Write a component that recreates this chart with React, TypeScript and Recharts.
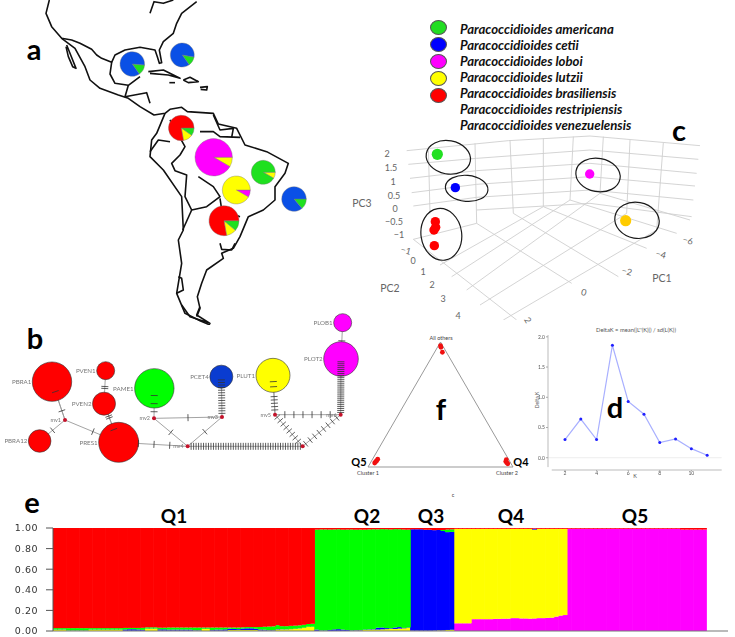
import React from 'react';
import {
  Bar, BarChart, Cell, LineChart, Line, Pie, PieChart, ReferenceLine,
  Scatter, ScatterChart, XAxis, YAxis,
} from 'recharts';

const RED = '#ff0000';
const GREEN = '#00ff00';
const BLUE = '#0000ff';
const YELLOW = '#ffff00';
const MAGENTA = '#ff00ff';
const MAP_BLUE = '#0a50e6';
const MAP_GREEN = '#1fe01f';

type Pt = { x: number; y: number };
const pts = (flat: number[]): Pt[] => {
  const out: Pt[] = [];
  for (let i = 0; i < flat.length; i += 2) out.push({ x: flat[i], y: flat[i + 1] });
  return out;
};

// panel a: outlines in map units
const coastAndBorders = [
  [148, 0, 138, 40, 155, 80, 185, 115, 215, 120, 240, 130, 275, 148, 290, 165, 305, 175, 335, 187, 345, 165, 375, 150, 420, 142, 465, 150, 472, 170, 478, 190, 485, 188, 478, 150, 490, 125, 520, 100, 530, 70, 545, 40, 590, 5],
  [200, 135, 212, 165, 228, 205, 218, 200, 205, 170, 198, 140],
  [185, 115, 225, 145, 255, 200, 270, 240, 300, 265, 355, 285, 385, 295, 420, 320, 462, 345, 495, 340, 510, 328, 545, 322, 562, 335, 640, 340, 655, 372, 710, 385, 735, 435, 800, 455, 865, 490, 855, 520, 825, 560, 825, 600, 790, 630, 745, 650, 720, 710, 700, 745, 665, 760, 670, 775, 620, 810, 605, 850, 592, 890, 600, 925, 590, 950],
  [335, 187, 330, 222, 345, 250, 385, 256, 420, 230],
  [385, 256, 375, 290, 440, 278, 450, 310],
  [495, 340, 470, 400, 455, 420, 450, 470, 490, 510, 545, 590, 550, 690, 535, 720, 545, 790, 530, 880, 555, 940, 600, 962, 630, 975],
  [510, 360, 555, 440, 540, 465, 515, 490, 525, 512, 560, 525, 555, 590, 575, 630, 620, 620, 660, 590, 640, 560, 595, 530],
  [450, 455, 475, 420, 510, 425],
  [575, 630, 548, 690],
  [660, 595, 665, 628, 720, 650],
  [660, 730, 665, 748, 695, 750, 705, 730],
  [600, 395, 640, 395, 660, 410, 720, 412],
  [640, 345, 660, 390, 700, 385, 695, 412],
  [445, 215, 490, 210, 540, 235, 505, 225, 450, 220],
  [550, 240, 570, 232, 595, 245, 565, 248, 550, 240],
  [600, 262, 622, 260, 620, 270, 602, 268],
  [508, 248, 525, 248],
  [450, 40, 462, 5, 490, 10, 520, 0],
  [530, 880, 550, 870, 545, 835, 535, 830],
  [545, 915, 570, 950, 630, 970, 590, 945, 600, 920],
];

const pieNames = ['Gulf', 'Caribbean', 'Venezuela', 'Amazon', 'Northeast', 'Central', 'Atlantic', 'South'];
const pieValues = [[50, 310], [45, 315], [45, 35, 280], [30, 330], [30, 330], [30, 330], [50, 310], [40, 40, 280]];
const pieColors = [
  [MAP_GREEN, MAP_BLUE], [MAP_GREEN, MAP_BLUE], [YELLOW, MAP_GREEN, RED], [YELLOW, MAGENTA], [YELLOW, MAP_GREEN],
  [MAGENTA, YELLOW], [MAP_GREEN, MAP_BLUE], [YELLOW, MAP_GREEN, RED],
];
const pieStart = [-55, -55, -80, -30, -30, -30, -50, -80];
const pieCx = [132.3, 182.3, 181.3, 213.7, 263.3, 236.3, 294, 224];
const pieCy = [64, 55, 128, 157.3, 172.3, 190, 199, 220.7];
const pieRadius = [12.3, 12, 12.8, 18.7, 12, 14, 12.3, 15];

// panel c: perspective grid, in plot units
const pcaGrid = [
  [110, 452, 415, 422, 660, 408, 990, 437],
  [115, 493, 320, 475, 660, 450, 985, 478],
  [120, 535, 320, 512, 660, 490, 980, 520],
  [125, 578, 320, 553, 660, 530, 975, 558],
  [130, 618, 320, 592, 660, 570, 970, 600],
  [320, 630, 660, 610, 965, 650],
  [175, 440, 180, 640], [315, 430, 320, 670], [420, 420, 430, 640], [520, 415, 520, 620],
  [610, 410, 600, 600], [700, 410, 690, 580], [780, 420, 770, 640], [880, 428, 860, 690],
  [320, 670, 605, 850], [430, 640, 745, 830], [520, 620, 830, 745], [600, 600, 920, 700], [690, 580, 960, 660],
  [130, 718, 320, 670], [210, 795, 520, 620], [245, 830, 600, 600], [290, 870, 690, 580], [330, 915, 770, 640], [400, 960, 860, 690],
  [130, 718, 440, 960],
];
const pcaGreen = pts([202, 463]);
const pcaBlue = pts([256, 563]);
const pcaMagenta = pts([659, 522]);
const pcaOrange = pts([767, 662]);
const pcaRed = pts([196, 665, 197, 682, 192, 690, 193, 737]);
const pcaRings = [
  { x: 235, y: 472, rx: 67, ry: 50, tilt: 10 },
  { x: 290, y: 565, rx: 64, ry: 39, tilt: 5 },
  { x: 214, y: 703, rx: 61, ry: 78, tilt: -8 },
  { x: 684, y: 525, rx: 67, ry: 50, tilt: 10 },
  { x: 801, y: 661, rx: 67, ry: 54, tilt: 10 },
];

// panel b: haplotype network
const hapNames = ['PBRA1', 'PVEN1', 'PVEN2', 'PBRA12', 'PRES1', 'PAME1', 'PCET4', 'PLUT1', 'PLOB1', 'PLOT2'];
const hapX = [156, 317, 312, 119, 356, 463, 664, 819, 1028, 1023];
const hapY = [230, 197, 296, 408, 412, 250, 215, 211, 53, 162];
const hapRadius = [19.7, 9, 11.5, 11.3, 20, 19.7, 11.5, 17, 9, 17.3];
const hapColors = [RED, RED, RED, RED, RED, GREEN, '#0a3cd0', YELLOW, MAGENTA, MAGENTA];
const mvNames = ['mv1', 'mv2', 'mv3', 'mv4', 'mv5', 'mv6', 'mv7'];
const mvX = [195, 462, 666, 563, 825, 1022, 908];
const mvY = [345, 340, 336, 424, 329, 329, 424];
// from, to, mutation ticks, first and last position of the ticks on the edge
const hapEdges: [string, string, number, number, number][] = [
  ['PBRA1', 'mv1', 1, 0.76, 0.76],
  ['PBRA1', 'mv1', 1, 0.26, 0.26],
  ['PBRA12', 'mv1', 1, 0.51, 0.51],
  ['mv1', 'PRES1', 1, 0.52, 0.52],
  ['PVEN1', 'PVEN2', 2, 0.48, 0.54],
  ['PVEN2', 'PRES1', 2, 0.32, 0.37],
  ['PVEN2', 'PRES1', 1, 0.67, 0.67],
  ['PRES1', 'mv4', 3, 0.285, 0.74],
  ['mv2', 'mv3', 1, 0.5, 0.5],
  ['mv2', 'mv4', 1, 0.5, 0.5],
  ['mv3', 'mv4', 1, 0.5, 0.5],
  ['mv4', 'mv7', 45, 0.03, 0.98],
  ['mv5', 'mv6', 6, 0.15, 0.84],
  ['mv5', 'mv7', 8, 0.08, 0.84],
  ['mv6', 'mv7', 8, 0.1, 0.92],
  ['PAME1', 'mv2', 3, 0.24, 0.78],
  ['PCET4', 'mv3', 14, 0.08, 0.91],
  ['PLUT1', 'mv5', 2, 0.16, 0.29],
  ['PLUT1', 'mv5', 5, 0.54, 0.88],
  ['PLOT2', 'mv6', 27, 0.05, 0.96],
  ['PLOB1', 'PLOT2', 1, 0.5, 0.5],
];

const where = (name: string): Pt => {
  const h = hapNames.indexOf(name);
  if (h >= 0) return { x: hapX[h], y: hapY[h] };
  const m = mvNames.indexOf(name);
  return { x: mvX[m], y: mvY[m] };
};
const hapNodes = hapNames.map((name, i) => ({ name, x: hapX[i], y: hapY[i], r: hapRadius[i], fill: hapColors[i] }));
const mvNodes = mvNames.map((name, i) => ({ name, x: mvX[i], y: mvY[i] }));
const mutationTicks = hapEdges.flatMap(([a, b, n, t0, t1]) => {
  const p = where(a);
  const q = where(b);
  const angle = Math.atan2(q.y - p.y, q.x - p.x);
  return Array.from({ length: n }, (_, i) => {
    const t = n === 1 ? t0 : t0 + ((t1 - t0) * i) / (n - 1);
    return { x: p.x + (q.x - p.x) * t, y: p.y + (q.y - p.y) * t, angle };
  });
});

// panel f: triangle plot
const triangleFrame = pts([0.5, 1, 0, 0, 1, 0, 0.5, 1]);
const trianglePoints = pts([
  0.5, 0.97, 0.503, 0.958, 0.513, 0.918,
  0.046, 0.032, 0.053, 0.042, 0.06, 0.05, 0.067, 0.062,
  0.95, 0.045, 0.957, 0.034, 0.964, 0.026, 0.954, 0.058,
]);

// panel d: Evanno deltaK
const deltaKs = [2, 3, 4, 5, 6, 7, 8, 9, 10, 11];
const deltaValues = [0.3, 0.64, 0.3, 1.86, 0.93, 0.72, 0.25, 0.31, 0.15, 0.04];

// panel e: ancestry per sample, lines are Q1 (60), Q2 (22), Q3 (10), Q4 (26), Q5 (32), then 5 empty slots
const magentaShare = [
  0, 0, 0, 0, 0, 0, 0, 0, 0, 0, 0, 0, 0, 0, 0, 0, 0, 0, 0, 0, 0, 0, 0, 0, 0, 0, 0, 0, 0, 0,
  0, 0, 0, 0, 0, 0, 0, 0, 0, 0, 0, 0, 0, 0, 0, 0, 0, 0, 0, 0, 0, 0, 0, 0, 0, 0, 0, 0, 0, 0,
  0, 0, 0, 0, 0, 0, 0, 0, 0, 0, 0, 0, 0, 0, 0, 0, 0, 0, 0, 0, 0, 0,
  0, 0, 0, 0, 0, 0, 0, 0, 0, 0,
  0.075, 0.075, 0.075, 0.075, 0.115, 0.115, 0.115, 0.115, 0.115, 0.118, 0.118, 0.12, 0.12, 0.125, 0.125, 0.122, 0.122, 0.12, 0.122, 0.125, 0.125, 0.128, 0.13, 0.14, 0.15, 0.155,
  0.993, 0.993, 0.993, 0.993, 0.993, 0.993, 0.993, 0.993, 0.993, 0.993, 0.993, 0.993, 0.993, 0.993, 0.993, 0.993, 0.993, 0.993, 0.993, 0.993, 0.993, 0.993, 0.993, 0.993, 0.993, 0.993, 0.985, 0.985, 0.985, 0.985, 0.985, 0.985,
  0, 0, 0, 0, 0,
];
const yellowShare = [
  0.012, 0.012, 0.012, 0.004, 0.004, 0.004, 0.004, 0.004, 0.012, 0.012, 0.012, 0.012, 0.012, 0.012, 0.012, 0.012, 0.003, 0.003, 0.003, 0.003, 0.003, 0.022, 0.022, 0.022, 0.004, 0.004, 0.004, 0.004, 0.004, 0.004,
  0.004, 0.004, 0.004, 0.004, 0.02, 0.02, 0.004, 0.004, 0.004, 0.004, 0.01, 0.01, 0.01, 0.01, 0.01, 0.01, 0.01, 0.005, 0.005, 0.005, 0.005, 0.015, 0.015, 0.015, 0.018, 0.02, 0.025, 0.03, 0.04, 0.04,
  0.002, 0.002, 0.002, 0.002, 0.002, 0.002, 0.002, 0.002, 0.002, 0.005, 0.006, 0.01, 0.012, 0.014, 0.014, 0.016, 0.018, 0.02, 0.02, 0.024, 0.026, 0.03,
  0.003, 0.003, 0.003, 0.003, 0.003, 0.004, 0.006, 0.006, 0.01, 0.012,
  0.917, 0.917, 0.917, 0.917, 0.877, 0.877, 0.877, 0.877, 0.877, 0.874, 0.874, 0.872, 0.872, 0.867, 0.867, 0.87, 0.87, 0.872, 0.862, 0.867, 0.867, 0.864, 0.862, 0.852, 0.842, 0.837,
  0, 0, 0, 0, 0, 0, 0, 0, 0, 0, 0, 0, 0, 0, 0, 0, 0, 0, 0, 0, 0, 0, 0, 0, 0, 0, 0, 0, 0, 0, 0, 0,
  0, 0, 0, 0, 0,
];
const blueShare = [
  0.002, 0.002, 0.002, 0.002, 0.002, 0.002, 0.002, 0.002, 0.002, 0.002, 0.002, 0.002, 0.002, 0.002, 0.002, 0.002, 0.012, 0.014, 0.014, 0.012, 0.008, 0.002, 0.002, 0.002, 0.012, 0.012, 0.01, 0.01, 0.01, 0.01,
  0.01, 0.01, 0.004, 0.004, 0.002, 0.002, 0.006, 0.01, 0.01, 0.012, 0.012, 0.01, 0.008, 0.014, 0.016, 0.016, 0.012, 0.01, 0.008, 0.004, 0.004, 0.004, 0.002, 0.002, 0.002, 0.002, 0.002, 0.002, 0.002, 0.002,
  0.012, 0.004, 0.004, 0.008, 0.014, 0.016, 0.012, 0.008, 0.004, 0.004, 0.004, 0.004, 0.004, 0.004, 0.018, 0.018, 0.01, 0.006, 0.014, 0.014, 0.004, 0.004,
  0.985, 0.985, 0.985, 0.98, 0.98, 0.975, 0.975, 0.965, 0.95, 0.95,
  0, 0, 0, 0, 0, 0, 0, 0, 0, 0, 0, 0, 0, 0, 0, 0, 0, 0, 0.01, 0, 0, 0, 0, 0, 0, 0,
  0, 0, 0, 0, 0, 0, 0, 0, 0, 0, 0, 0, 0, 0, 0, 0, 0, 0, 0, 0, 0, 0, 0, 0, 0, 0, 0, 0, 0, 0, 0, 0,
  0, 0, 0, 0, 0,
];
const greenShare = [
  0.014, 0.014, 0.014, 0.022, 0.022, 0.022, 0.022, 0.022, 0.014, 0.014, 0.014, 0.014, 0.014, 0.014, 0.014, 0.014, 0.015, 0.013, 0.013, 0.015, 0.02, 0.012, 0.012, 0.012, 0.016, 0.016, 0.02, 0.02, 0.02, 0.02,
  0.02, 0.02, 0.026, 0.026, 0.012, 0.012, 0.024, 0.02, 0.02, 0.018, 0.012, 0.014, 0.016, 0.012, 0.012, 0.012, 0.016, 0.024, 0.028, 0.034, 0.036, 0.038, 0.03, 0.03, 0.03, 0.03, 0.028, 0.028, 0.026, 0.028,
  0.97, 0.98, 0.98, 0.975, 0.97, 0.97, 0.97, 0.975, 0.98, 0.975, 0.975, 0.97, 0.97, 0.97, 0.955, 0.955, 0.96, 0.96, 0.955, 0.95, 0.955, 0.95,
  0, 0, 0, 0, 0, 0, 0, 0.01, 0.025, 0.025,
  0, 0, 0, 0, 0, 0, 0, 0, 0, 0, 0, 0, 0, 0, 0, 0, 0, 0, 0, 0, 0, 0, 0, 0, 0, 0,
  0, 0, 0, 0, 0, 0, 0, 0, 0, 0, 0, 0, 0, 0, 0, 0, 0, 0, 0, 0, 0, 0, 0, 0, 0, 0, 0, 0, 0, 0, 0, 0,
  0, 0, 0, 0, 0,
];
const redShare = [
  0.98, 0.98, 0.98, 0.98, 0.98, 0.98, 0.98, 0.98, 0.98, 0.98, 0.98, 0.98, 0.98, 0.98, 0.98, 0.98, 0.98, 0.98, 0.98, 0.98, 0.98, 0.975, 0.975, 0.975, 0.975, 0.975, 0.975, 0.975, 0.975, 0.975,
  0.975, 0.975, 0.975, 0.975, 0.975, 0.975, 0.975, 0.975, 0.975, 0.975, 0.975, 0.975, 0.975, 0.975, 0.975, 0.975, 0.975, 0.97, 0.97, 0.965, 0.965, 0.95, 0.96, 0.96, 0.955, 0.955, 0.95, 0.945, 0.94, 0.935,
  0.02, 0.02, 0.02, 0.02, 0.02, 0.02, 0.02, 0.02, 0.02, 0.02, 0.02, 0.02, 0.02, 0.02, 0.02, 0.02, 0.02, 0.02, 0.02, 0.02, 0.02, 0.02,
  0.02, 0.02, 0.02, 0.02, 0.02, 0.025, 0.025, 0.025, 0.03, 0.03,
  0.01, 0.01, 0.01, 0.01, 0.01, 0.01, 0.01, 0.01, 0.01, 0.01, 0.01, 0.01, 0.01, 0.01, 0.01, 0.01, 0.01, 0.01, 0.01, 0.01, 0.01, 0.01, 0.01, 0.01, 0.01, 0.01,
  0.01, 0.01, 0.01, 0.01, 0.01, 0.01, 0.01, 0.01, 0.01, 0.01, 0.01, 0.01, 0.01, 0.01, 0.01, 0.01, 0.01, 0.01, 0.01, 0.01, 0.01, 0.01, 0.01, 0.01, 0.01, 0.01, 0.02, 0.02, 0.02, 0.02, 0.02, 0.02,
  0, 0, 0, 0, 0,
];
const ancestryRows = redShare.map((red, i) => ({
  sample: i, magenta: magentaShare[i], yellow: yellowShare[i], blue: blueShare[i], green: greenShare[i], red,
}));
const ancestryTicks = [0, 0.2, 0.4, 0.6, 0.8, 1];

const legendNames = [
  'Paracoccidioides americana', 'Paracoccidioides cetii', 'Paracoccidioides loboi', 'Paracoccidioides lutzii',
  'Paracoccidioides brasiliensis', 'Paracoccidioides restripiensis', 'Paracoccidioides venezuelensis',
];
const legendSwatches = ['#22dd22', '#0000ff', '#ff00ff', '#ffff00', '#ff0000'];

const SANS = 'Lato, "Open Sans", sans-serif';

const Caption: React.FC<{
  x: number; y: number; size: number; color?: string; bold?: boolean; rotate?: number; italic?: boolean; children: React.ReactNode;
}> = ({ x, y, size, color = '#000', bold, rotate = 0, italic, children }) => (
  <div
    style={{
      position: 'absolute', left: x, top: y, transform: `translate(-50%,-50%) rotate(${rotate}deg)`,
      fontFamily: SANS, fontSize: size, color, fontWeight: bold ? 700 : 400, fontStyle: italic ? 'italic' : 'normal',
      whiteSpace: 'nowrap', lineHeight: 1,
    }}
  >
    {children}
  </div>
);

const Layer: React.FC<{ x: number; y: number; blur?: number; children: React.ReactNode }> = ({ x, y, blur = 0, children }) => (
  <div style={{ position: 'absolute', left: x, top: y, filter: blur ? `blur(${blur}px)` : undefined }}>{children}</div>
);

const NO_MARGIN = { top: 0, right: 0, bottom: 0, left: 0 };

const dot = (r: number, fill: string) => (p: any) => <circle cx={p.cx} cy={p.cy} r={r} fill={fill} />;
const nothing = () => <g />;
// bars are a fraction of a pixel apart at this width, so each one overlaps its neighbour
const solidBar = (p: any) => (p.height > 0 ? <rect x={p.x} y={p.y} width={p.width + 1} height={p.height} fill={p.fill} /> : <g />);

function MapPanel() {
  return (
    <>
      <Layer x={0} y={0} blur={0.4}>
        <ScatterChart width={370} height={325} margin={NO_MARGIN}>
          <XAxis type="number" dataKey="x" domain={[0, 1110]} hide />
          <YAxis type="number" dataKey="y" domain={[0, 975]} reversed hide />
          {coastAndBorders.map((line, i) => (
            <Scatter key={i} data={pts(line)} line={{ stroke: '#111', strokeWidth: 1.6, strokeLinejoin: 'round' }} shape={nothing} isAnimationActive={false} />
          ))}
        </ScatterChart>
      </Layer>
      <Layer x={0} y={0}>
        <PieChart width={370} height={325} margin={NO_MARGIN}>
          {pieNames.map((name, i) => (
            <Pie
              key={name}
              data={pieValues[i].map((value) => ({ value }))}
              dataKey="value"
              cx={pieCx[i]}
              cy={pieCy[i]}
              innerRadius={0}
              outerRadius={pieRadius[i]}
              startAngle={pieStart[i]}
              endAngle={pieStart[i] + 360}
              stroke="#777"
              strokeWidth={0.4}
              isAnimationActive={false}
            >
              {pieValues[i].map((_, j) => (
                <Cell key={j} fill={pieColors[i][j]} />
              ))}
            </Pie>
          ))}
        </PieChart>
      </Layer>
    </>
  );
}

function PcaPanel() {
  return (
    <Layer x={370} y={0} blur={0.3}>
      <ScatterChart width={365} height={320} margin={NO_MARGIN}>
        <XAxis type="number" dataKey="x" domain={[0, 1095]} hide />
        <YAxis type="number" dataKey="y" domain={[0, 960]} reversed hide />
        {pcaGrid.map((line, i) => (
          <Scatter key={i} data={pts(line)} line={{ stroke: '#cfcfcf', strokeWidth: 0.9 }} shape={nothing} isAnimationActive={false} />
        ))}
        <Scatter data={pcaGreen} shape={dot(5.6, '#22e022')} isAnimationActive={false} />
        <Scatter data={pcaBlue} shape={dot(4.7, '#0000ff')} isAnimationActive={false} />
        <Scatter data={pcaMagenta} shape={dot(4.7, '#ff00ff')} isAnimationActive={false} />
        <Scatter data={pcaOrange} shape={dot(5.6, '#ffcc00')} isAnimationActive={false} />
        <Scatter data={pcaRed} shape={dot(4.7, '#ff0000')} isAnimationActive={false} />
        <Scatter
          data={pcaRings}
          shape={(p: any) => (
            <ellipse
              cx={p.cx}
              cy={p.cy}
              rx={p.payload.rx / 3}
              ry={p.payload.ry / 3}
              transform={`rotate(${p.payload.tilt} ${p.cx} ${p.cy})`}
              fill="none"
              stroke="#1a1a1a"
              strokeWidth={1.2}
            />
          )}
          isAnimationActive={false}
        />
      </ScatterChart>
    </Layer>
  );
}

function NetworkPanel() {
  return (
    <Layer x={0} y={305} blur={0.4}>
      <ScatterChart width={370} height={185} margin={NO_MARGIN}>
        <XAxis type="number" dataKey="x" domain={[0, 1110]} hide />
        <YAxis type="number" dataKey="y" domain={[0, 555]} reversed hide />
        {hapEdges.map(([a, b], i) => (
          <Scatter key={i} data={[where(a), where(b)]} line={{ stroke: '#999', strokeWidth: 0.9 }} shape={nothing} isAnimationActive={false} />
        ))}
        <Scatter
          data={hapNodes}
          shape={(p: any) => (
            <g>
              <circle cx={p.cx} cy={p.cy} r={p.payload.r} fill={p.payload.fill} stroke="#333" strokeWidth={0.6} />
              <text x={p.cx - p.payload.r - 1} y={p.cy + 2.2} textAnchor="end" fontSize={6.2} fontFamily={SANS} fill="#777">
                {p.payload.name}
              </text>
            </g>
          )}
          isAnimationActive={false}
        />
        <Scatter
          data={mutationTicks}
          shape={(p: any) => {
            const dx = -Math.sin(p.payload.angle) * 3.5;
            const dy = Math.cos(p.payload.angle) * 3.5;
            return <line x1={p.cx - dx} y1={p.cy - dy} x2={p.cx + dx} y2={p.cy + dy} stroke="#333" strokeWidth={0.8} />;
          }}
          isAnimationActive={false}
        />
        <Scatter
          data={mvNodes}
          shape={(p: any) => (
            <g>
              <circle cx={p.cx} cy={p.cy} r={2} fill="#c4122a" />
              {p.payload.name !== 'mv7' && (
                <text x={p.cx - 4} y={p.cy + 2} textAnchor="end" fontSize={5.5} fontFamily={SANS} fill="#777">
                  {p.payload.name}
                </text>
              )}
            </g>
          )}
          isAnimationActive={false}
        />
      </ScatterChart>
    </Layer>
  );
}

function TrianglePanel() {
  return (
    <Layer x={358.3} y={332.3} blur={0.3}>
      <ScatterChart width={165} height={145} margin={{ top: 10, right: 10, bottom: 10, left: 10 }}>
        <XAxis type="number" dataKey="x" domain={[0, 1]} hide />
        <YAxis type="number" dataKey="y" domain={[0, 1]} hide />
        <Scatter data={triangleFrame} line={{ stroke: '#999', strokeWidth: 1 }} shape={nothing} isAnimationActive={false} />
        <Scatter data={trianglePoints} shape={dot(2.4, '#f01010')} isAnimationActive={false} />
      </ScatterChart>
    </Layer>
  );
}

function DeltaPanel() {
  const data = deltaKs.map((k, i) => ({ k, delta: deltaValues[i] }));
  const tick = { fontSize: 5, fontFamily: SANS, fill: '#555' };
  return (
    <Layer x={530} y={325} blur={0.3}>
      <LineChart width={200} height={160} data={data} margin={{ top: 10, right: 8.3, bottom: 3, left: 0 }}>
        <XAxis
          type="number"
          dataKey="k"
          domain={[0.924, 11.92]}
          ticks={[2, 4, 6, 8, 10]}
          allowDataOverflow
          height={12}
          axisLine={false}
          tickSize={1}
          tickMargin={0}
          stroke="#aaa"
          tick={tick}
        />
        <YAxis
          type="number"
          domain={[-0.203, 2.03]}
          ticks={[0, 0.5, 1, 1.5, 2]}
          tickFormatter={(v: number) => v.toFixed(1)}
          allowDataOverflow
          width={18}
          axisLine={false}
          tickSize={2}
          tickMargin={1}
          stroke="#aaa"
          tick={tick}
        />
        <ReferenceLine y={0} stroke="#eeeeee" />
        <ReferenceLine segment={[{ x: 0.924, y: -0.155 }, { x: 0.924, y: 2.03 }]} stroke="#bbb" />
        <ReferenceLine segment={[{ x: 1.16, y: -0.203 }, { x: 11.92, y: -0.203 }]} stroke="#bbb" />
        <Line
          dataKey="delta"
          type="linear"
          stroke="#a9b0ff"
          strokeWidth={1.2}
          dot={{ r: 1.5, fill: '#2020ff', stroke: 'none' }}
          isAnimationActive={false}
        />
      </LineChart>
    </Layer>
  );
}

function AncestryPanel() {
  return (
    <Layer x={0} y={520} blur={0.2}>
      <BarChart width={735} height={117} data={ancestryRows} barCategoryGap={0} barGap={0} margin={{ top: 8, right: 7, bottom: 5, left: 0 }}>
        <XAxis dataKey="sample" height={1} tick={false} tickLine={false} axisLine={{ stroke: '#777', strokeWidth: 1.2 }} />
        <YAxis
          type="number"
          domain={[0, 1]}
          ticks={ancestryTicks}
          tickFormatter={(v: number) => v.toFixed(2)}
          allowDataOverflow
          width={53}
          tickSize={7}
          tickMargin={8}
          stroke="#555"
          tick={{ fontSize: 9.5, fontFamily: '"DejaVu Sans", sans-serif', fill: '#333', letterSpacing: 0.5 }}
        />
        <Bar dataKey="magenta" stackId="q" fill={MAGENTA} shape={solidBar} isAnimationActive={false} />
        <Bar dataKey="yellow" stackId="q" fill={YELLOW} shape={solidBar} isAnimationActive={false} />
        <Bar dataKey="blue" stackId="q" fill={BLUE} shape={solidBar} isAnimationActive={false} />
        <Bar dataKey="green" stackId="q" fill={GREEN} shape={solidBar} isAnimationActive={false} />
        <Bar dataKey="red" stackId="q" fill={RED} shape={solidBar} isAnimationActive={false} />
      </BarChart>
    </Layer>
  );
}

export default function App() {
  const gray = '#666';
  return (
    <div style={{ position: 'absolute', left: 0, top: 0, width: 735, height: 637, background: '#fff', overflow: 'hidden' }}>
      <MapPanel />
      <PcaPanel />
      <NetworkPanel />
      <TrianglePanel />
      <DeltaPanel />
      <AncestryPanel />

      {legendSwatches.map((fill, i) => (
        <div
          key={fill}
          style={{
            position: 'absolute', left: 429.5, top: [19.5, 36.5, 53.5, 70.5, 87.5][i], width: 17, height: 15,
            borderRadius: '50%', background: fill, border: '0.5px solid #555', boxSizing: 'border-box',
          }}
        />
      ))}
      {legendNames.map((name, i) => (
        <div
          key={name}
          style={{
            position: 'absolute', left: 460, top: [21, 37, 53, 69, 85, 101, 117][i], fontFamily: SANS, fontSize: 13.2,
            fontWeight: 700, fontStyle: 'italic', color: '#111', whiteSpace: 'nowrap', lineHeight: '16px',
          }}
        >
          {name}
        </div>
      ))}

      <Caption x={34} y={48} size={29} bold>a</Caption>
      <Caption x={35} y={337} size={29} bold>b</Caption>
      <Caption x={679} y={129} size={29} bold>c</Caption>
      <Caption x={615} y={406} size={29} bold>d</Caption>
      <Caption x={32} y={501} size={29} bold>e</Caption>
      <Caption x={441} y={408} size={29} bold>f</Caption>
      <Caption x={174} y={515} size={19} bold>Q1</Caption>
      <Caption x={367} y={515} size={19} bold>Q2</Caption>
      <Caption x={431} y={515} size={19} bold>Q3</Caption>
      <Caption x={511} y={515} size={19} bold>Q4</Caption>
      <Caption x={635} y={515} size={19} bold>Q5</Caption>
      <Caption x={359} y={461} size={11} bold>Q5</Caption>
      <Caption x={521} y={461} size={11} bold>Q4</Caption>

      <Caption x={362} y={203} size={10.5} color={gray}>PC3</Caption>
      <Caption x={387} y={153} size={9} color={gray}>2</Caption>
      <Caption x={391} y={167} size={9} color={gray}>1.5</Caption>
      <Caption x={393} y={181} size={9} color={gray}>1</Caption>
      <Caption x={394} y={195} size={9} color={gray}>0.5</Caption>
      <Caption x={395} y={208} size={9} color={gray}>0</Caption>
      <Caption x={394} y={221} size={9} color={gray}>−0.5</Caption>
      <Caption x={399} y={234} size={9} color={gray}>−1</Caption>
      <Caption x={406} y={250} size={9} color={gray} rotate={15}>−1</Caption>
      <Caption x={413} y={260} size={9} color={gray}>0</Caption>
      <Caption x={423} y={271} size={9} color={gray}>1</Caption>
      <Caption x={432} y={284} size={9} color={gray}>2</Caption>
      <Caption x={443} y={298} size={9} color={gray}>3</Caption>
      <Caption x={458} y={315} size={9} color={gray}>4</Caption>
      <Caption x={390} y={288} size={10.5} color={gray}>PC2</Caption>
      <Caption x={662} y={278} size={10.5} color={gray}>PC1</Caption>
      <Caption x={688} y={240} size={9} color={gray} rotate={15}>−6</Caption>
      <Caption x={661} y={254} size={9} color={gray} rotate={15}>−4</Caption>
      <Caption x={627} y={271} size={9} color={gray} rotate={15}>−2</Caption>
      <Caption x={584} y={292} size={9} color={gray} rotate={15}>0</Caption>
      <Caption x={528} y={320} size={9} color={gray} rotate={60}>2</Caption>

      <Caption x={441} y={338.5} size={5.5} color="#444">All others</Caption>
      <Caption x={368} y={474} size={5.5} color="#444">Cluster 1</Caption>
      <Caption x={507} y={474} size={5.5} color="#444">Cluster 2</Caption>
      <Caption x={453} y={496} size={5.5} color="#444">c</Caption>

      <Caption x={636} y={330} size={5.8} color="#555">{"DeltaK = mean(|L''(K)|) / sd(L(K))"}</Caption>
      <Caption x={635} y={477} size={5.5} color="#555">K</Caption>
      <Caption x={537} y={400} size={5} color="#555" rotate={-90}>Delta K</Caption>
    </div>
  );
}
